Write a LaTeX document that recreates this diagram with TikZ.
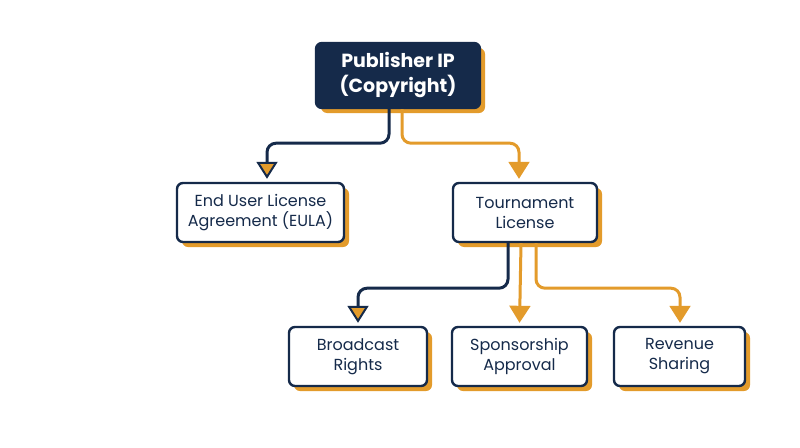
\documentclass[tikz,border=0pt]{standalone}
\usepackage{fontspec}
\setmainfont{Poppins}
\usetikzlibrary{arrows.meta,shadows}
\definecolor{navy}{HTML}{152A4A}
\definecolor{gold}{HTML}{E39B2B}
\begin{document}
\begin{tikzpicture}
[
 x=1pt, y=-1pt,
 BOX/.style={rectangle, rounded corners=6pt, draw=navy, line width=2.4pt, fill=white,
   align=center, font=\fontsize{16}{20}\selectfont, text=navy,
   general shadow={fill=gold, shadow xshift=5pt, shadow yshift=-5pt}},
 TOP/.style={BOX, fill=navy, text=white, font=\bfseries\fontsize{19}{25}\selectfont},
 LINKD/.style={draw=navy, line width=3pt, rounded corners=9pt, shorten >=3pt,
   -{Triangle[width=21pt,length=17pt,fill=gold,line width=2pt]}},
 LINKO/.style={LINKD, draw=gold},
 ]
%
\useasboundingbox (0,0) rectangle (800,447);
%
\node [TOP, minimum width=164pt, minimum height=65pt] (pub)  at (398,75.5)  {Publisher IP\\(Copyright)};
\node [BOX, minimum width=167pt, minimum height=59pt] (eula) at (260.5,212.5) {End User License\\Agreement (EULA)};
\node [BOX, minimum width=144pt, minimum height=59pt] (tour) at (525,212.5) {Tournament\\License};
%
\node [BOX, minimum width=138pt, minimum height=59pt] (bcast) at (358,356.5)   {Broadcast\\Rights};
\node [BOX, minimum width=135pt, minimum height=59pt] (spons) at (519.5,356.5) {Sponsorship\\Approval};
\node [BOX, minimum width=131pt, minimum height=59pt] (rev)   at (679.5,356.5) {Revenue\\Sharing};
%
\draw [LINKD] ([xshift=-9pt]pub.south)  -- ++(0,34) -| ([xshift=6.5pt]eula.north);
\draw [LINKO] ([xshift=4pt]pub.south)   -- ++(0,34) -| ([xshift=-6pt]tour.north);
%
\draw [LINKD] ([xshift=-17pt]tour.south) -- ++(0,45) -| (bcast.north);
\draw [LINKO] ([xshift=-4pt]tour.south)  -- (spons.north);
\draw [LINKO] ([xshift=11pt]tour.south)  -- ++(0,45) -| ([xshift=0.5pt]rev.north);
%
\end{tikzpicture}
\end{document}
